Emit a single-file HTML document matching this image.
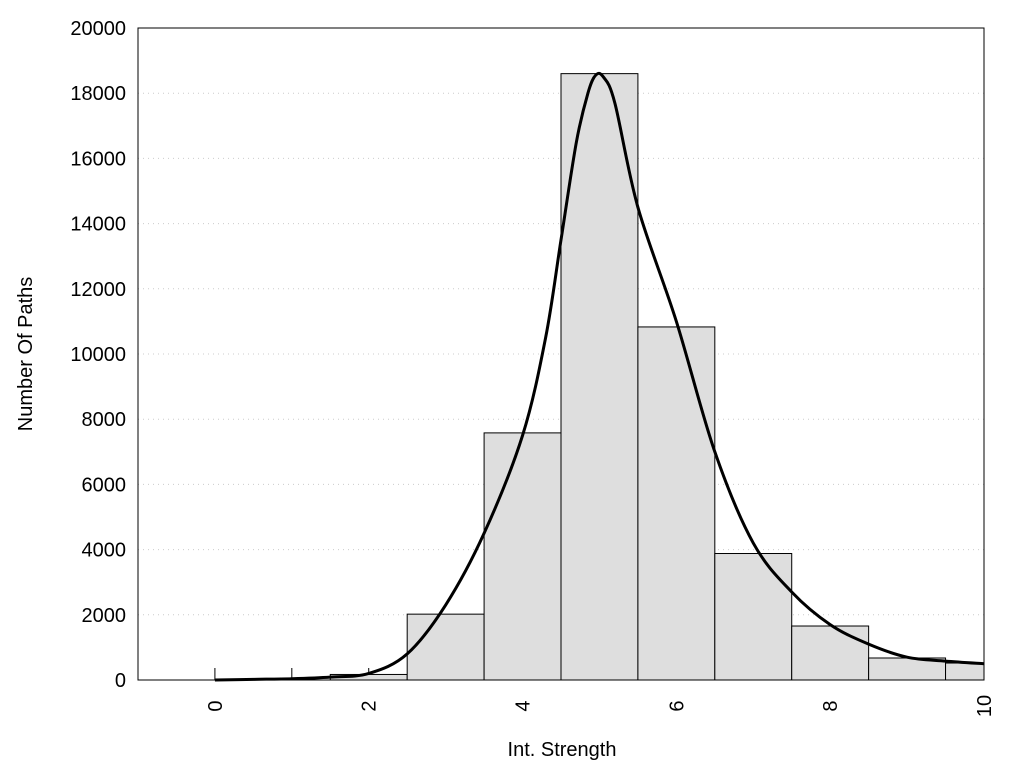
<!DOCTYPE html>
<html><head><meta charset="utf-8"><style>
body{margin:0;background:#fff;font-family:"Liberation Sans",sans-serif}
text{font-family:"Liberation Sans",sans-serif}
</style></head><body>
<svg id="c" width="1024" height="768" xmlns="http://www.w3.org/2000/svg">
<rect x="0" y="0" width="1024" height="768" fill="#fff"/>
<g id="grid"></g><g id="ticks"></g><g id="bars"></g><g id="curve"></g>
<rect x="138" y="28" width="846" height="652" fill="none" stroke="#000" stroke-width="1"/>
<g id="labels"></g>
<text x="562" y="756" font-size="20" text-anchor="middle">Int. Strength</text>
<text x="32" y="354" font-size="20" text-anchor="middle" transform="rotate(-90 32 354)">Number Of Paths</text>
</svg>
<script>
const binCenters=[0,1,2,3,4,5,6,7,8,9,10];
const binCounts=[0,0,170,2020,7580,18600,10830,3880,1656,675,520];
const curveX=[0,0.5,1,1.5,2,2.5,3,3.5,4,4.3,4.5,4.7,4.85,4.95,5.05,5.2,5.5,6,6.5,7,7.5,8,8.5,9,9.5,10];
const curveY=[0,20,40,90,200,800,2300,4500,7500,10500,13500,16500,18000,18550,18500,17700,14500,11000,7000,4200,2700,1700,1100,700,580,500];
const yTicks=[0,2000,4000,6000,8000,10000,12000,14000,16000,18000,20000];
const xTicks=[0,2,4,6,8,10];
const X0=138,X1=984,Y0=680,Y1=28,XMIN=-1,XMAX=10,YMAX=20000;
const sx=v=>X0+(v-XMIN)/(XMAX-XMIN)*(X1-X0);
const sy=v=>Y0-v/YMAX*(Y0-Y1);
const NS="http://www.w3.org/2000/svg";
function mk(t,a,p){const e=document.createElementNS(NS,t);for(const k in a)e.setAttribute(k,a[k]);document.getElementById(p).appendChild(e);return e;}
yTicks.forEach(v=>{
  if(v>0&&v<YMAX){const g=mk('line',{x1:X0,x2:X1,y1:sy(v),y2:sy(v),stroke:'#ccc','stroke-dasharray':'1,4'},'grid');
  
  }
  const t=mk('text',{x:X0-12,y:sy(v)+7,'font-size':20,'text-anchor':'end'},'labels');t.textContent=v;
  
  
});
for(let i=0;i<=10;i++){const tk=mk('line',{x1:sx(i),x2:sx(i),y1:Y0,y2:Y0-12,stroke:'#000'},'ticks');
  
  }
xTicks.forEach(v=>{const x=sx(v)+7,y=706;const t=mk('text',{x:x,y:y,'font-size':20,'text-anchor':'middle',transform:`rotate(-90 ${x} ${y})`},'labels');t.textContent=v;
  
  });
binCenters.forEach((c,i)=>{if(binCounts[i]<=0)return;
  const l=Math.max(sx(c-0.5),X0),r=Math.min(sx(c+0.5),X1);
  const b=mk('rect',{x:l,y:sy(binCounts[i]),width:r-l,height:Y0-sy(binCounts[i]),fill:'#dedede',stroke:'#000','stroke-width':1},'bars');
  
  });
// smooth curve via Catmull-Rom
const P=curveX.map((x,i)=>[sx(x),sy(curveY[i])]);
let d=`M${P[0][0]},${P[0][1]}`;
for(let i=0;i<P.length-1;i++){const p0=P[i-1]||P[i],p1=P[i],p2=P[i+1],p3=P[i+2]||P[i+1];
 d+=` C${p1[0]+(p2[0]-p0[0])/6},${p1[1]+(p2[1]-p0[1])/6} ${p2[0]-(p3[0]-p1[0])/6},${p2[1]-(p3[1]-p1[1])/6} ${p2[0]},${p2[1]}`;}
const cv=mk('path',{d:d,fill:'none',stroke:'#000','stroke-width':3},'curve');


</script>
</body></html>
